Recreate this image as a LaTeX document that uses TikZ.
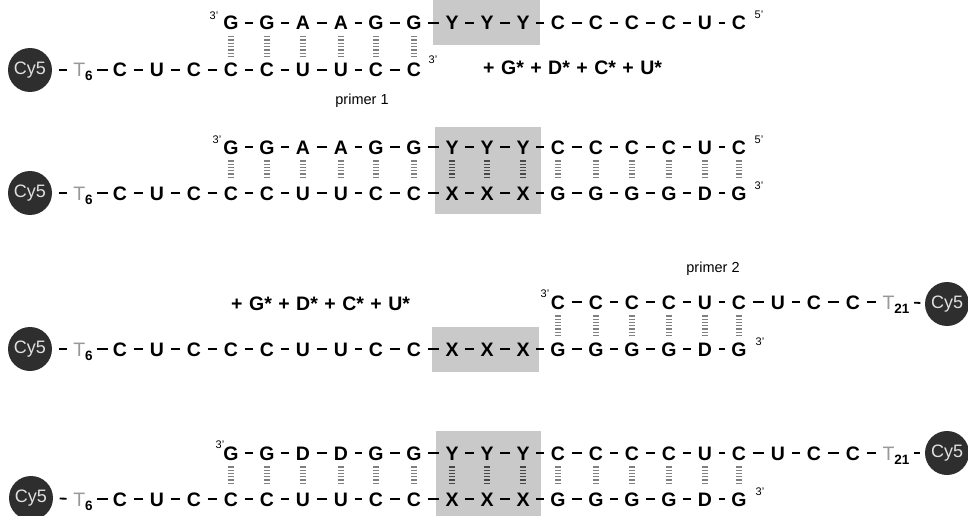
\documentclass[tikz,border=0pt]{standalone}
\usepackage{fontspec}
\setmainfont{Liberation Sans}
\begin{document}
\begin{tikzpicture}[x=1pt,y=-1pt,
  nt/.style={font=\bfseries\fontsize{19.5}{21}\selectfont, inner sep=0pt, text height=14pt, text depth=0pt},
  tnode/.style={inner sep=0pt, text height=14pt, text depth=0pt, font=\fontsize{19.5}{21}\selectfont},
  bond/.style={line width=1.8pt, shorten <=6.5pt, shorten >=6.5pt},
  bondt/.style={line width=1.8pt, shorten <=4.5pt, shorten >=4.5pt},
  pairline/.style={line width=6pt, dash pattern=on 1.3pt off 2pt, draw=black!50, shorten <=6pt, shorten >=6pt},
  pairdark/.style={pairline, draw=black!72},
  cyfive/.style={circle, fill=black!82, inner sep=0pt, minimum size=44pt, text=black!12, font=\fontsize{18}{18}\selectfont},
  prime/.style={font=\fontsize{11}{11}\selectfont, inner sep=0pt},
  note/.style={font=\fontsize{14.5}{14.5}\selectfont, inner sep=0pt},
  plus/.style={font=\bfseries\fontsize{19.5}{21}\selectfont, inner sep=0pt, text height=14pt, text depth=0pt, anchor=west},
  hbox/.style={fill=black!21, draw=none}
]
\useasboundingbox (0,0) rectangle (968,516);
\newcommand{\Tsix}{\textcolor{black!40}{T}\raisebox{-4pt}{\fontsize{13.5}{13.5}\selectfont\bfseries 6}}
\newcommand{\Ttwo}{\textcolor{black!40}{T}\raisebox{-4pt}{\fontsize{13.5}{13.5}\selectfont\bfseries 21}}
\newcommand{\plusline}{+\hspace{6.5pt}G*\hspace{6.5pt}+\hspace{6.5pt}D*\hspace{6.5pt}+\hspace{6.5pt}C*\hspace{6.5pt}+\hspace{6.5pt}U*}

% grey boxes
\fill[hbox] (433,0) rectangle (540,45);
\fill[hbox] (435,127) rectangle (541,214);
\fill[hbox] (432,327) rectangle (539,372);
\fill[hbox] (436,431) rectangle (541,516);

% ---------------- Row 1 ----------------
\foreach \x/\l [count=\i] in {231/G,267/G,303/A,341/A,376/G,414/G,452/Y,487/Y,523/Y,558/C,596/C,632/C,669/C,705/U,739/C}
  \node[nt] (r1t\i) at (\x,23) {\l};
\foreach \x/\l [count=\i] in {120/C,157/U,194/C,231/C,267/C,303/U,341/U,376/C,414/C}
  \node[nt] (r1b\i) at (\x,70) {\l};
\node[cyfive] (r1cy) at (30,70) {Cy5};
\node[tnode] (r1T) at (83,70) {\Tsix};
\foreach \i [evaluate=\i as \j using int(\i+1)] in {1,...,14} \draw[bond] (r1t\i) -- (r1t\j);
\foreach \i [evaluate=\i as \j using int(\i+1)] in {1,...,8} \draw[bond] (r1b\i) -- (r1b\j);
\draw[bond] (r1cy) -- (r1T);
\draw[bondt] (r1T) -- (r1b1);
\foreach \i [evaluate=\i as \j using int(\i+3)] in {1,...,6} \draw[pairline] (r1t\i) -- (r1b\j);
\node[prime] (r1p3) at (214,16) {3'};
\node[prime] (r1p5) at (759,15) {5'};
\node[prime] (r1q3) at (433,60) {3'};
\node[note] (pr1) at (362,101) {primer 1};
\node[plus] (r1plus) at (483,68) {\plusline};

% ---------------- Row 2 ----------------
\foreach \x/\l [count=\i] in {231/G,267/G,303/A,341/A,376/G,414/G,452/Y,487/Y,523/Y,558/C,596/C,632/C,669/C,705/U,739/C}
  \node[nt] (r2t\i) at (\x,147) {\l};
\foreach \x/\l [count=\i] in {120/C,157/U,194/C,231/C,267/C,303/U,341/U,376/C,414/C,452/X,487/X,523/X,558/G,596/G,632/G,669/G,705/D,739/G}
  \node[nt] (r2b\i) at (\x,193) {\l};
\node[cyfive] (r2cy) at (30,193) {Cy5};
\node[tnode] (r2T) at (83,193) {\Tsix};
\foreach \i [evaluate=\i as \j using int(\i+1)] in {1,...,14} \draw[bond] (r2t\i) -- (r2t\j);
\foreach \i [evaluate=\i as \j using int(\i+1)] in {1,...,17} \draw[bond] (r2b\i) -- (r2b\j);
\draw[bond] (r2cy) -- (r2T);
\draw[bondt] (r2T) -- (r2b1);
\foreach \i [evaluate=\i as \j using int(\i+3)] in {1,...,6,10,11,...,15} \draw[pairline] (r2t\i) -- (r2b\j);
\foreach \i [evaluate=\i as \j using int(\i+3)] in {7,8,9} \draw[pairdark] (r2t\i) -- (r2b\j);
\node[prime] (r2p3) at (217,140) {3'};
\node[prime] (r2p5) at (759,140) {5'};
\node[prime] (r2q3) at (759,186) {3'};

% ---------------- Row 3 ----------------
\foreach \x/\l [count=\i] in {558/C,596/C,632/C,669/C,705/U,739/C,778/U,814/C,853/C}
  \node[nt] (r3t\i) at (\x,302) {\l};
\node[tnode] (r3T) at (896,302) {\Ttwo};
\node[cyfive] (r3cyr) at (947,304) {Cy5};
\foreach \x/\l [count=\i] in {120/C,157/U,194/C,231/C,267/C,303/U,341/U,376/C,414/C,452/X,487/X,523/X,558/G,596/G,632/G,669/G,705/D,739/G}
  \node[nt] (r3b\i) at (\x,349) {\l};
\node[cyfive] (r3cy) at (30,349) {Cy5};
\node[tnode] (r3Tb) at (83,349) {\Tsix};
\foreach \i [evaluate=\i as \j using int(\i+1)] in {1,...,8} \draw[bond] (r3t\i) -- (r3t\j);
\draw[bond] (r3t9) -- (r3T);
\draw[bondt] (r3T) -- (r3cyr);
\foreach \i [evaluate=\i as \j using int(\i+1)] in {1,...,17} \draw[bond] (r3b\i) -- (r3b\j);
\draw[bond] (r3cy) -- (r3Tb);
\draw[bondt] (r3Tb) -- (r3b1);
\foreach \i [evaluate=\i as \j using int(\i+12)] in {1,...,6} \draw[pairline] (r3t\i) -- (r3b\j);
\node[prime] (r3p3) at (545,294) {3'};
\node[prime] (r3q3) at (760,342) {3'};
\node[note] (pr2) at (713,269) {primer 2};
\node[plus] (r3plus) at (231,303) {\plusline};

% ---------------- Row 4 ----------------
\foreach \x/\l [count=\i] in {231/G,267/G,303/D,341/D,376/G,414/G,452/Y,487/Y,523/Y,558/C,596/C,632/C,669/C,705/U,739/C,778/U,814/C,853/C}
  \node[nt] (r4t\i) at (\x,453) {\l};
\node[tnode] (r4T) at (896,453) {\Ttwo};
\node[cyfive] (r4cyr) at (947,453) {Cy5};
\foreach \x/\l [count=\i] in {120/C,157/U,194/C,231/C,267/C,303/U,341/U,376/C,414/C,452/X,487/X,523/X,558/G,596/G,632/G,669/G,705/D,739/G}
  \node[nt] (r4b\i) at (\x,499) {\l};
\node[cyfive] (r4cy) at (31,498) {Cy5};
\node[tnode] (r4Tb) at (83,499) {\Tsix};
\foreach \i [evaluate=\i as \j using int(\i+1)] in {1,...,17} \draw[bond] (r4t\i) -- (r4t\j);
\draw[bond] (r4t18) -- (r4T);
\draw[bondt] (r4T) -- (r4cyr);
\foreach \i [evaluate=\i as \j using int(\i+1)] in {1,...,17} \draw[bond] (r4b\i) -- (r4b\j);
\draw[bond] (r4cy) -- (r4Tb);
\draw[bondt] (r4Tb) -- (r4b1);
\foreach \i [evaluate=\i as \j using int(\i+3)] in {1,...,6,10,11,...,15} \draw[pairline] (r4t\i) -- (r4b\j);
\foreach \i [evaluate=\i as \j using int(\i+3)] in {7,8,9} \draw[pairdark] (r4t\i) -- (r4b\j);
\node[prime] (r4p3) at (220,445) {3'};
\node[prime] (r4q3) at (760,492) {3'};
\end{tikzpicture}
\end{document}
